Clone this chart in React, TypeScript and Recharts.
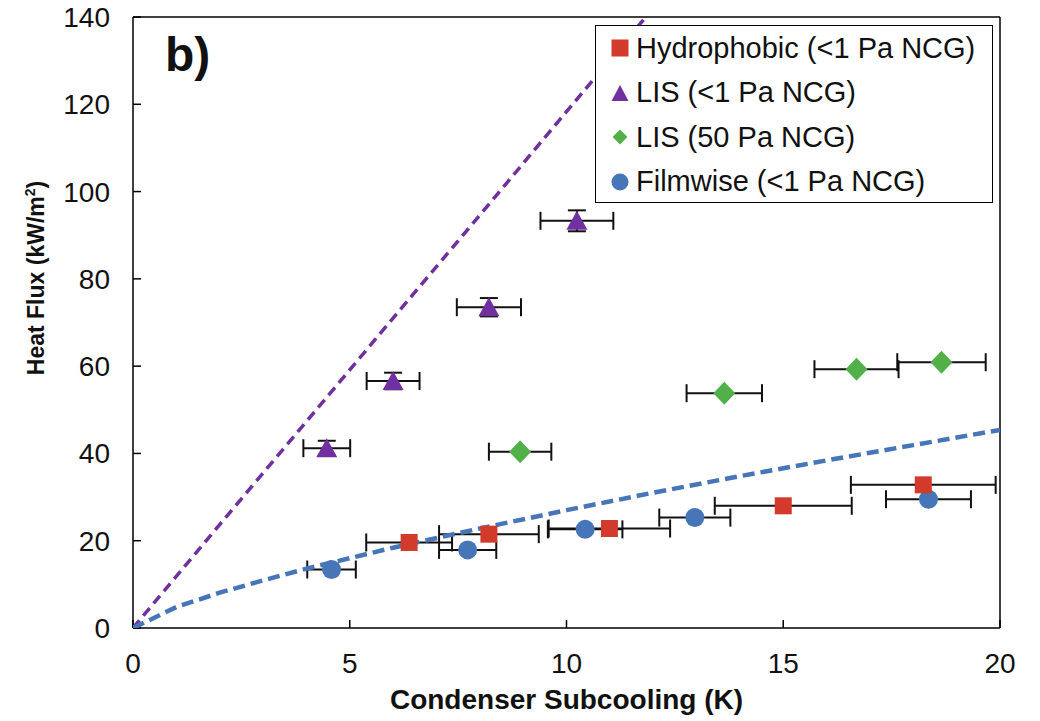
import React from "react";
import {
  ScatterChart,
  Scatter,
  XAxis,
  YAxis,
  ErrorBar,
  ReferenceLine,
  Legend,
} from "recharts";

const FONT = "'Liberation Sans', Arial, Helvetica, sans-serif";

// Measured series (x = condenser subcooling K, y = heat flux kW/m2)
const hydroX = [6.37, 8.21, 10.99, 15.0, 18.23];
const hydroY = [19.6, 21.5, 22.8, 28.0, 32.8];
const hydroXErr = [0.99, 1.15, 1.4, 1.58, 1.67];

const lisX = [4.47, 6.0, 8.21, 10.24];
const lisY = [41.2, 56.6, 73.5, 93.3];
const lisXErr = [0.54, 0.61, 0.74, 0.84];
const lisYErr = [1.7, 1.9, 2.1, 2.4];

const lis50X = [8.93, 13.64, 16.69, 18.65];
const lis50Y = [40.4, 53.8, 59.3, 60.9];
const lis50XErr = [0.72, 0.87, 0.97, 1.02];

const filmX = [4.58, 7.72, 10.43, 12.96, 18.35];
const filmY = [13.4, 17.9, 22.6, 25.3, 29.5];
const filmXErr = [0.56, 0.66, 0.86, 0.82, 0.98];

// Model curves (dashed)
const lisModelX = [0, 2, 4, 6, 8, 10, 11.83];
const lisModelY = [0, 23.7, 47.3, 71.0, 94.6, 118.3, 140];
const filmModelX = [0, 1, 2, 3, 4, 5, 6, 8, 10, 12, 14, 16, 18, 20];
const filmModelY = [0, 4.8, 8.1, 10.9, 13.6, 16.0, 18.4, 22.8, 27.0, 31.0, 34.8, 38.4, 41.9, 45.4];

const xTicks = [0, 5, 10, 15, 20];
const yTicks = [0, 20, 40, 60, 80, 100, 120, 140];

const seriesNames = [
  "Hydrophobic (<1 Pa NCG)",
  "LIS (<1 Pa NCG)",
  "LIS (50 Pa NCG)",
  "Filmwise (<1 Pa NCG)",
];

const RED = "#d23b2c";
const PURPLE = "#7030a0";
const GREEN = "#52b049";
const BLUE = "#4675b8";

const hydroData = hydroX.map((x, i) => ({ x, y: hydroY[i], ex: hydroXErr[i] }));
const lisData = lisX.map((x, i) => ({ x, y: lisY[i], ex: lisXErr[i], ey: lisYErr[i] }));
const lis50Data = lis50X.map((x, i) => ({ x, y: lis50Y[i], ex: lis50XErr[i] }));
const filmData = filmX.map((x, i) => ({ x, y: filmY[i], ex: filmXErr[i] }));
const lisModel = lisModelX.map((x, i) => ({ x, y: lisModelY[i] }));
const filmModel = filmModelX.map((x, i) => ({ x, y: filmModelY[i] }));

const Square = (p: any) => (
  <rect x={p.cx - 8.5} y={p.cy - 8.5} width={17} height={17} fill={RED} />
);
const Triangle = (p: any) => (
  <polygon
    points={`${p.cx},${p.cy - 10} ${p.cx + 10.5},${p.cy + 9} ${p.cx - 10.5},${p.cy + 9}`}
    fill={PURPLE}
  />
);
const Diamond = (p: any) => (
  <polygon
    points={`${p.cx},${p.cy - 11.5} ${p.cx + 11},${p.cy} ${p.cx},${p.cy + 11.5} ${p.cx - 11},${p.cy}`}
    fill={GREEN}
  />
);
const Circle = (p: any) => <circle cx={p.cx} cy={p.cy} r={9.5} fill={BLUE} />;
const NoShape = () => <g />;

const legendIcons = [
  <svg width={18} height={18} key="a"><rect x={0.5} y={0.5} width={17} height={17} fill={RED} /></svg>,
  <svg width={18} height={18} key="b"><polygon points="9,1 17.5,17 0.5,17" fill={PURPLE} /></svg>,
  <svg width={18} height={18} key="c"><polygon points="9,1.5 16.5,9 9,16.5 1.5,9" fill={GREEN} /></svg>,
  <svg width={18} height={18} key="d"><circle cx={9} cy={9} r={8.5} fill={BLUE} /></svg>,
];

const LegendBox = () => (
  <div
    style={{
      width: 398,
      height: 178,
      border: "1.5px solid #000",
      background: "#fff",
      boxSizing: "border-box",
      paddingTop: 0,
      paddingLeft: 15,
      fontFamily: FONT,
      fontSize: 29,
      color: "#111",
    }}
  >
    {seriesNames.map((n, i) => (
      <div key={n} style={{ display: "flex", alignItems: "center", height: 44.5, whiteSpace: "nowrap" }}>
        <span style={{ width: 25, display: "inline-flex", alignItems: "center" }}>{legendIcons[i]}</span>
        <span>{n}</span>
      </div>
    ))}
  </div>
);

const YLabel = () => (
  <text
    x={0}
    y={0}
    transform="translate(44 278) rotate(-90)"
    textAnchor="middle"
    fontFamily={FONT}
    fontWeight="bold"
    fontSize={23}
    fill="#111"
  >
    Heat Flux (kW/m
    <tspan fontSize={14} dy={-9}>2</tspan>
    <tspan dy={9}>)</tspan>
  </text>
);

const XLabel = () => (
  <text
    x={566.5}
    y={709}
    textAnchor="middle"
    fontFamily={FONT}
    fontWeight="bold"
    fontSize={28}
    fill="#111"
  >
    Condenser Subcooling (K)
  </text>
);

export default function App() {
  return (
    <div style={{ position: "absolute", left: 0, top: 0, width: 1040, height: 721, background: "#fff" }}>
      <ScatterChart
        width={1040}
        height={721}
        margin={{ top: 17, right: 40, bottom: 0, left: 0 }}
      >
        <XAxis
          type="number"
          dataKey="x"
          domain={[0, 20]}
          ticks={xTicks}
          interval={0}
          height={93}
          allowDataOverflow
          axisLine={{ stroke: "#000", strokeWidth: 1.5 }}
          tickLine={{ stroke: "#000", strokeWidth: 1.5 }}
          tickSize={-8}
          tickMargin={33}
          tick={{ fontFamily: FONT, fontSize: 28, fill: "#111" }}
          label={<XLabel />}
        />
        <YAxis
          type="number"
          dataKey="y"
          domain={[0, 140]}
          ticks={yTicks}
          interval={0}
          width={133}
          allowDataOverflow
          axisLine={{ stroke: "#000", strokeWidth: 1.5 }}
          tickLine={{ stroke: "#000", strokeWidth: 1.5 }}
          tickSize={-8}
          tickMargin={31}
          tick={{ fontFamily: FONT, fontSize: 28, fill: "#111" }}
          label={<YLabel />}
        />
        <ReferenceLine y={140} stroke="#000" strokeWidth={1.5} />
        <ReferenceLine x={20} stroke="#000" strokeWidth={1.5} />

        <Scatter
          data={lisModel}
          line={{ stroke: PURPLE, strokeWidth: 3.5, strokeDasharray: "10 6" }}
          shape={NoShape}
          legendType="none"
          isAnimationActive={false}
        />
        <Scatter
          data={filmModel}
          line={{ stroke: BLUE, strokeWidth: 4.5, strokeDasharray: "12 6" }}
          shape={NoShape}
          legendType="none"
          isAnimationActive={false}
        />

        <Scatter name={seriesNames[3]} data={filmData} shape={Circle} isAnimationActive={false}>
          <ErrorBar dataKey="ex" direction="x" width={9} stroke="#111" strokeWidth={2} />
        </Scatter>
        <Scatter name={seriesNames[0]} data={hydroData} shape={Square} isAnimationActive={false}>
          <ErrorBar dataKey="ex" direction="x" width={9} stroke="#111" strokeWidth={2} />
        </Scatter>
        <Scatter name={seriesNames[1]} data={lisData} shape={Triangle} isAnimationActive={false}>
          <ErrorBar dataKey="ex" direction="x" width={9} stroke="#111" strokeWidth={2} />
          <ErrorBar dataKey="ey" direction="y" width={9} stroke="#111" strokeWidth={2} />
        </Scatter>
        <Scatter name={seriesNames[2]} data={lis50Data} shape={Diamond} isAnimationActive={false}>
          <ErrorBar dataKey="ex" direction="x" width={9} stroke="#111" strokeWidth={2} />
        </Scatter>

        <Legend
          layout="vertical"
          align="center"
          verticalAlign="middle"
          content={<LegendBox />}
          wrapperStyle={{ position: "absolute", left: 595, top: 25, width: 398, height: 178 }}
        />
      </ScatterChart>
      <div
        style={{
          position: "absolute",
          left: 165,
          top: 20,
          fontFamily: FONT,
          fontWeight: "bold",
          fontSize: 48,
          lineHeight: "70px",
          color: "#111",
        }}
      >
        b)
      </div>
    </div>
  );
}
